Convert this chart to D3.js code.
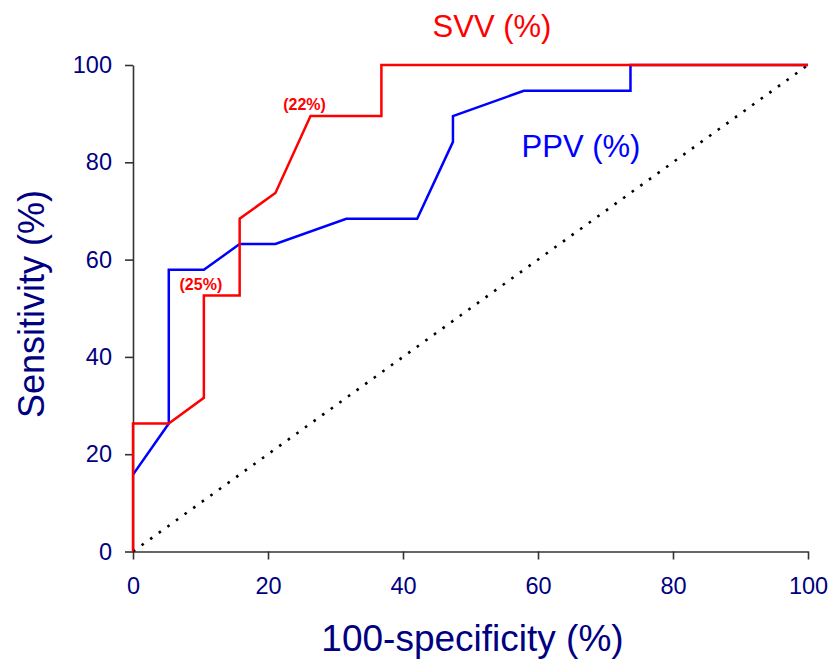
<!DOCTYPE html>
<html>
<head>
<meta charset="utf-8">
<script src="https://cdn.jsdelivr.net/npm/d3@7"></script>
<style>
  body { margin: 0; background: #fff; }
  svg { display: block; font-family: Arial, "Liberation Sans", sans-serif; }
</style>
</head>
<body>
<svg id="chart"></svg>
<script>
// ROC curves, 100-specificity (%) vs sensitivity (%)
const svvX = [0, 0, 5.3, 10.5, 10.5, 15.8, 15.8, 21.1, 26.3, 36.8, 36.8, 100]
const svvY = [0, 26.3, 26.3, 31.6, 52.6, 52.6, 68.4, 73.7, 89.5, 89.5, 100, 100]
const ppvX = [0, 5.3, 5.3, 10.5, 15.8, 21.1, 31.6, 42.1, 47.4, 47.4, 57.9, 73.7, 73.7, 100]
const ppvY = [15.8, 26.3, 57.9, 57.9, 63.2, 63.2, 68.4, 68.4, 84.2, 89.5, 94.7, 94.7, 100, 100]
const refLine = [0, 100]
const xTicks = [0, 20, 40, 60, 80, 100]
const yTicks = [0, 20, 40, 60, 80, 100]
// cut-off labels, attached to a point of the SVV curve
const cutLabels = ['(22%)', '(25%)']
const cutIndex = [8, 4]

const width = 837
const height = 665
const padLeft = 133
const padRight = 29
const padTop = 65
const padBottom = 113.5

const svg = d3.select('#chart')
  .attr('width', width)
  .attr('height', height)

const xScale = d3.scaleLinear().domain([0, 100]).range([padLeft, width - padRight])
const yScale = d3.scaleLinear().domain([0, 100]).range([height - padBottom, padTop])

const toPts = (xs, ys) => xs.map((x, i) => ({ x: x, y: ys[i] }))
const line = d3.line().x(d => xScale(d.x)).y(d => yScale(d.y))

// axes
const xAxis = d3.axisBottom(xScale).tickValues(xTicks).tickSize(8).tickSizeOuter(0).tickPadding(18)
const yAxis = d3.axisLeft(yScale).tickValues(yTicks).tickSize(8).tickSizeOuter(0).tickPadding(13)

svg.append('g')
  .attr('transform', 'translate(0,' + yScale(0) + ')')
  .call(xAxis)
  .call(g => g.selectAll('path, line').attr('stroke', '#333').attr('stroke-width', 1.6))
  .call(g => g.selectAll('text')
    .attr('fill', '#000080')
    .style('font-size', '23.5px')
    .attr('font-family', 'Arial, "Liberation Sans", sans-serif'))

svg.append('g')
  .attr('transform', 'translate(' + xScale(0) + ',0)')
  .call(yAxis)
  .call(g => g.selectAll('path, line').attr('stroke', '#333').attr('stroke-width', 1.6))
  .call(g => g.selectAll('text')
    .attr('fill', '#000080')
    .style('font-size', '23.5px')
    .attr('font-family', 'Arial, "Liberation Sans", sans-serif'))

// reference diagonal
svg.append('path')
  .attr('d', line(toPts(refLine, refLine)))
  .attr('fill', 'none')
  .attr('stroke', '#000')
  .attr('stroke-width', 2.6)
  .attr('stroke-dasharray', '2.6,8')

// PPV under, SVV over
svg.append('path')
  .attr('d', line(toPts(ppvX, ppvY)))
  .attr('fill', 'none')
  .attr('stroke', '#0000ff')
  .attr('stroke-width', 2.5)

svg.append('path')
  .attr('d', line(toPts(svvX, svvY)))
  .attr('fill', 'none')
  .attr('stroke', '#ff0000')
  .attr('stroke-width', 2.5)

// cut-off labels
const cutOffset = [[-6, -6], [-3, -6]]
cutLabels.forEach((t, i) => {
  let k = cutIndex[i]
  svg.append('text')
    .attr('x', xScale(svvX[k]) + cutOffset[i][0])
    .attr('y', yScale(svvY[k]) + cutOffset[i][1])
    .attr('text-anchor', 'middle')
    .attr('fill', '#ff0000')
    .attr('font-weight', 'bold')
    .style('font-size', '16px')
    .text(t)
})

// series names
svg.append('text')
  .attr('x', 492)
  .attr('y', 37)
  .attr('text-anchor', 'middle')
  .attr('fill', '#ff0000')
  .style('font-size', '31px')
  .text('SVV (%)')

svg.append('text')
  .attr('x', 581)
  .attr('y', 157)
  .attr('text-anchor', 'middle')
  .attr('fill', '#0000ff')
  .style('font-size', '31px')
  .text('PPV (%)')

// axis titles
svg.append('text')
  .attr('x', (xScale(0) + xScale(100)) / 2 + 2)
  .attr('y', 651)
  .attr('text-anchor', 'middle')
  .attr('fill', '#000080')
  .style('font-size', '37px')
  .text('100-specificity (%)')

svg.append('text')
  .attr('transform', 'translate(44,' + 304 + ') rotate(-90)')
  .attr('text-anchor', 'middle')
  .attr('fill', '#000080')
  .style('font-size', '36px')
  .text('Sensitivity (%)')
</script>
</body>
</html>
